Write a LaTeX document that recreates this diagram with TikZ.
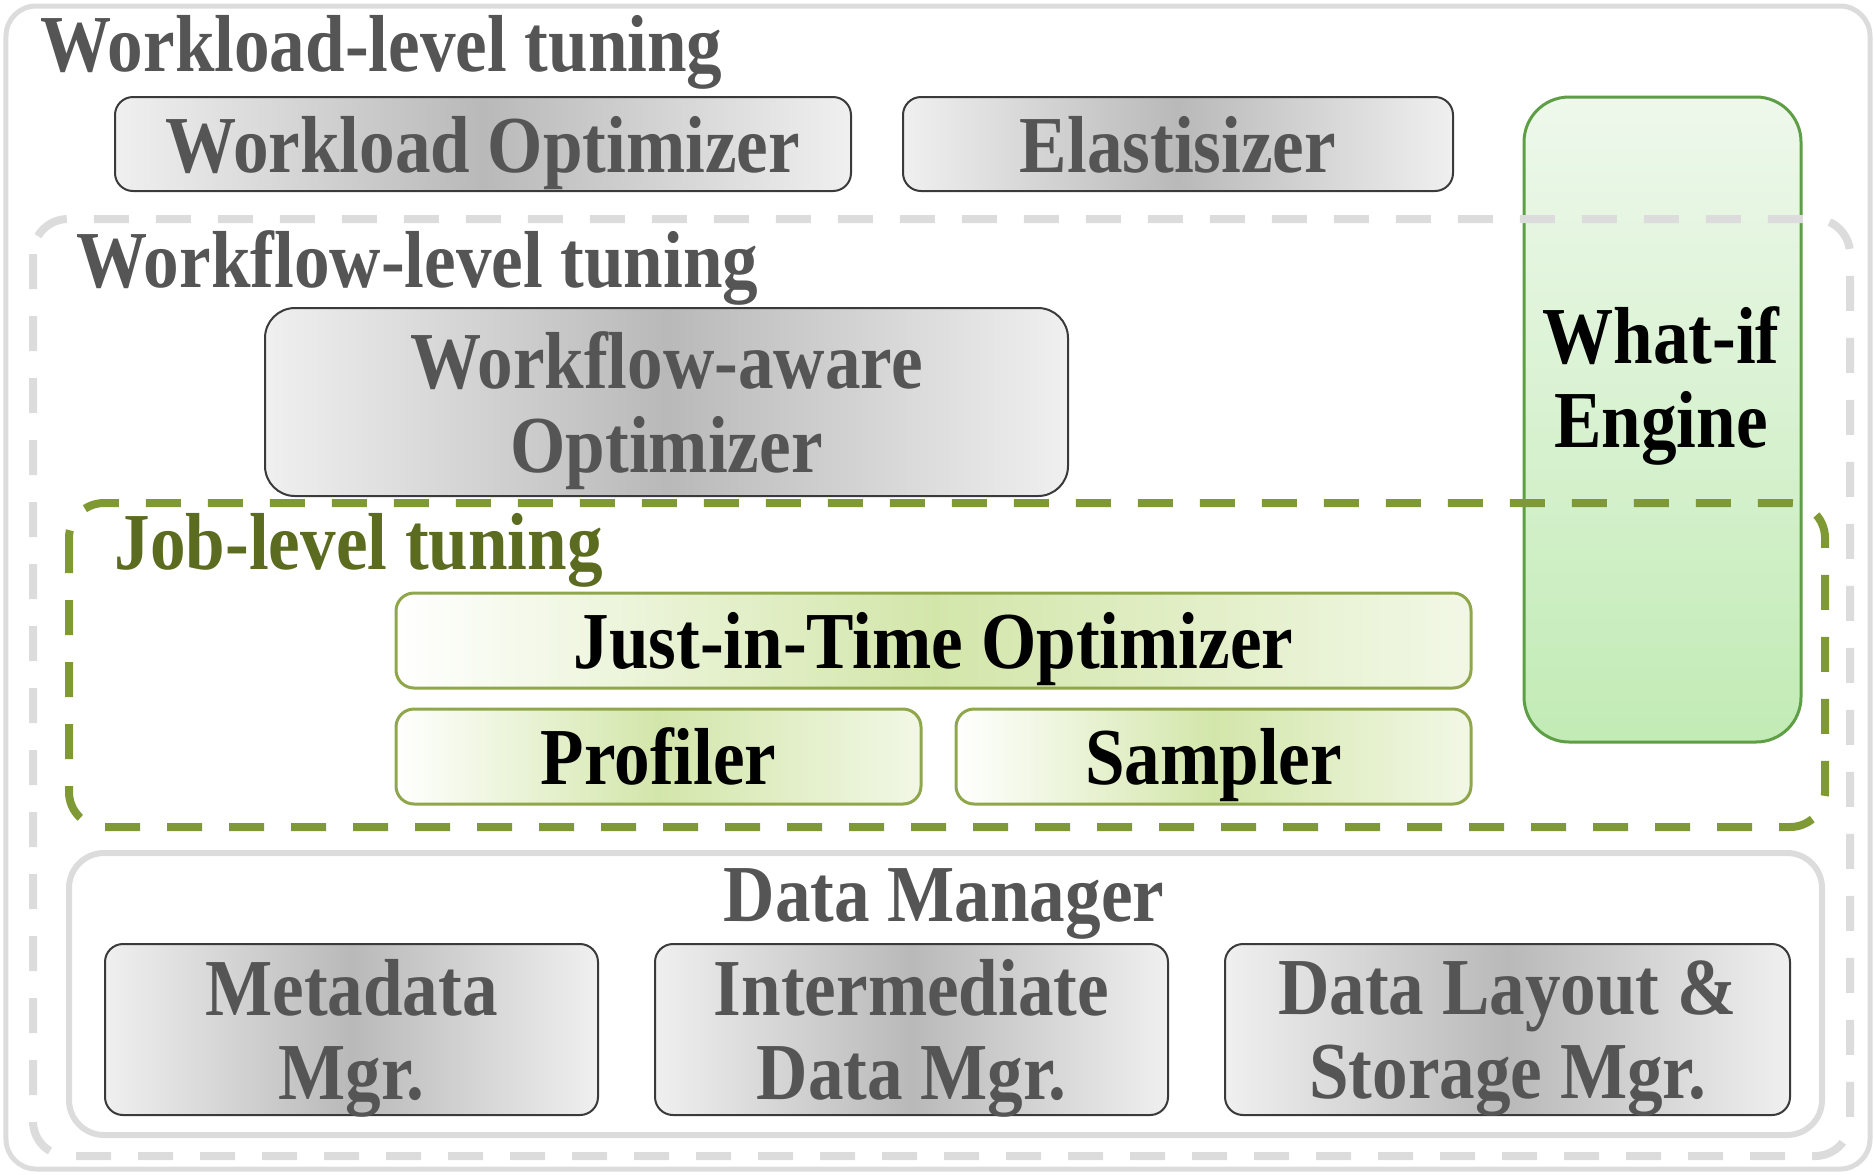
\documentclass[tikz,border=0pt]{standalone}
\usepackage{fontspec}
\setmainfont{Liberation Serif}[FakeStretch=0.88]
\usepackage{tikz}
\usetikzlibrary{positioning}

\definecolor{txtgray}{HTML}{555555}
\definecolor{boxline}{HTML}{3A3A3A}
\definecolor{jobgreen}{HTML}{5B6B1F}
\definecolor{dashgreen}{HTML}{7F9A35}
\definecolor{jitline}{HTML}{8FA64A}
\definecolor{jitmid}{HTML}{D3E6AA}
\definecolor{wifline}{HTML}{5E9E45}
\definecolor{wiftop}{HTML}{EEF8EC}
\definecolor{wifbot}{HTML}{C2EBB5}
\definecolor{frame}{HTML}{DCDCDC}

\tikzset{
  lbl/.style={font=\fontsize{23}{24}\selectfont\bfseries,inner sep=0pt},
  graybox/.style={draw=boxline,line width=0.02cm,rounded corners=0.18cm,
    left color=gray!12,right color=gray!12,middle color=gray!55,
    text=txtgray,align=center,font=\fontsize{23}{24}\selectfont\bfseries,inner sep=0pt,text depth=0pt},
  greenbox/.style={draw=jitline,line width=0.03cm,rounded corners=0.18cm,
    left color=white,right color=white!70!jitmid,middle color=jitmid,
    text=black,align=center,font=\fontsize{23}{24}\selectfont\bfseries,inner sep=0pt,text depth=0pt},
  tierline/.style={line width=0.08cm,dash pattern=on 0.35cm off 0.27cm,rounded corners=0.35cm}
}

\begin{document}
\begin{tikzpicture}
\useasboundingbox (0,0) rectangle (18.74,-11.74);
% outer frame
\draw[frame,line width=0.05cm,rounded corners=0.3cm] (0.06,-0.06) rectangle (18.70,-11.69);
\node[lbl,text=txtgray,anchor=west] (wltitle) at (0.40,-0.52) {Workload-level tuning};
\node[graybox,minimum width=7.36cm,minimum height=0.94cm] (wlopt) at (4.83,-1.44) {Workload Optimizer};
\node[graybox,minimum width=5.50cm,minimum height=0.94cm] (elast) at (11.78,-1.44) {Elastisizer};
\node[draw=wifline,line width=0.03cm,rounded corners=0.45cm,top color=wiftop,bottom color=wifbot,
  minimum width=2.77cm,minimum height=6.45cm] (whatif) at (16.625,-4.195) {};
\node[lbl,align=center] (whatiftext) at (16.61,-3.86) {What-if\\Engine};
% workflow tier
\draw[tierline,frame] (0.33,-2.19) rectangle (18.50,-11.56);
\node[lbl,text=txtgray,anchor=west] (wftitle) at (0.76,-2.68) {Workflow-level tuning};
\node[graybox,minimum width=8.03cm,minimum height=1.88cm,rounded corners=0.3cm] (wfopt) at (6.665,-4.02) {Workflow-aware\\Optimizer};
% job tier
\draw[tierline,dashgreen] (0.69,-5.03) rectangle (18.25,-8.27);
\node[lbl,text=jobgreen,anchor=west] (jobtitle) at (1.14,-5.50) {Job-level tuning};
\node[greenbox,minimum width=10.75cm,minimum height=0.95cm] (jit) at (9.335,-6.405) {Just-in-Time Optimizer};
\node[greenbox,minimum width=5.25cm,minimum height=0.95cm] (profiler) at (6.585,-7.565) {Profiler};
\node[greenbox,minimum width=5.15cm,minimum height=0.95cm] (sampler) at (12.135,-7.565) {Sampler};
% data manager
\draw[frame,line width=0.06cm,rounded corners=0.35cm] (0.69,-8.53) rectangle (18.22,-11.35);
\node[lbl,text=txtgray] (dmtitle) at (9.44,-9.04) {Data Manager};
\node[graybox,minimum width=4.93cm,minimum height=1.71cm] (meta) at (3.515,-10.295) {Metadata\\Mgr.};
\node[graybox,minimum width=5.13cm,minimum height=1.71cm] (inter) at (9.115,-10.295) {Intermediate\\Data Mgr.};
\node[graybox,minimum width=5.65cm,minimum height=1.71cm] (layout) at (15.075,-10.295) {Data Layout \&\\Storage Mgr.};
\end{tikzpicture}
\end{document}
